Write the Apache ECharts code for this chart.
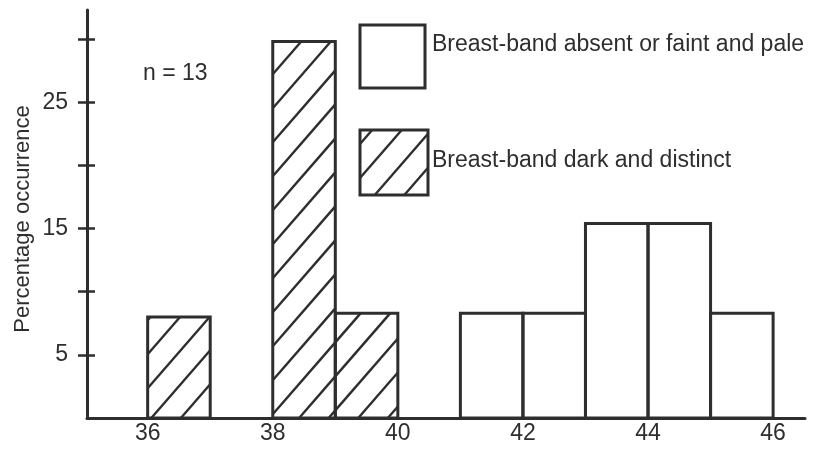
<!DOCTYPE html>
<html>
<head>
<meta charset="utf-8">
<script src="https://cdn.jsdelivr.net/npm/echarts@6/dist/echarts.min.js"></script>
<style>
  html, body { margin: 0; padding: 0; background: #ffffff; }
  #chart { width: 822px; height: 452px; }
</style>
</head>
<body>
<div id="chart"></div>
<script>
// Histogram bins: lower edge, upper edge and percentage occurrence
const darkBinStart = [36, 38, 39];
const darkBinEnd = [37, 39, 40];
const darkPercent = [8.0, 29.8, 8.3];

const paleBinStart = [41, 42, 43, 44, 45];
const paleBinEnd = [42, 43, 44, 45, 46];
const palePercent = [8.3, 8.3, 15.4, 15.4, 8.3];

const xTickLabels = [36, 38, 40, 42, 44, 46];
const yTickMarks = [5, 10, 15, 20, 25, 30];
const yTickLabels = [5, 15, 25];

const sampleNote = 'n = 13';
const paleName = 'Breast-band absent or faint and pale';
const darkName = 'Breast-band dark and distinct';
const yName = 'Percentage occurrence';

const INK = '#2e2e2e';
const FONT = 'Liberation Sans, Arial, sans-serif';
const HATCH_SLOPE = 1.15;  // vertical drop per pixel across
const HATCH_STEP = 34;     // vertical spacing between hatch lines
const HATCH_PHASE = 14;

// Diagonal hatch lines (rising to the right) clipped to a pixel rectangle
function hatchLines(x0, y0, x1, y1, style) {
  const m = HATCH_SLOPE;
  const out = [];
  const cMin = y0 + m * x0;
  const cMax = y1 + m * x1;
  const k = Math.ceil((cMin - HATCH_PHASE) / HATCH_STEP);
  for (let c = k * HATCH_STEP + HATCH_PHASE; c <= cMax; c += HATCH_STEP) {
    const xa = Math.max(x0, (c - y1) / m);
    const xb = Math.min(x1, (c - y0) / m);
    if (xb - xa < 0.5) continue;
    out.push({
      type: 'line',
      shape: { x1: xa, y1: c - m * xa, x2: xb, y2: c - m * xb },
      style: style
    });
  }
  return out;
}

function binRenderer(hatched) {
  return function (params, api) {
    const lo = api.coord([api.value(0), 0]);
    const hi = api.coord([api.value(1), api.value(2)]);
    const x0 = lo[0], x1 = hi[0], yb = lo[1], yt = hi[1];
    const children = [];
    if (hatched) {
      children.push.apply(children, hatchLines(x0, yt, x1, yb, { stroke: INK, lineWidth: 2.4 }));
    }
    children.push({
      type: 'rect',
      shape: { x: x0, y: yt, width: x1 - x0, height: yb - yt },
      style: { fill: 'none', stroke: INK, lineWidth: 3 }
    });
    return { type: 'group', children: children };
  };
}

const darkData = darkBinStart.map((s, i) => [s, darkBinEnd[i], darkPercent[i]]);
const paleData = paleBinStart.map((s, i) => [s, paleBinEnd[i], palePercent[i]]);

// Legend keys drawn as plain boxes beside their captions
const legendBox1 = { x: 360, y: 25, w: 65, h: 63 };
const legendBox2 = { x: 360, y: 130, w: 68, h: 65 };

const chart = echarts.init(document.getElementById('chart'), null, { renderer: 'canvas' });

chart.setOption({
  backgroundColor: '#ffffff',
  animation: false,
  grid: { left: 87, right: 17, top: 10, bottom: 34 },
  xAxis: {
    type: 'value',
    min: 35.03,
    max: 46.51,
    splitLine: { show: false },
    axisLine: { show: true, lineStyle: { color: INK, width: 3 } },
    axisTick: { show: false },
    axisLabel: {
      customValues: xTickLabels,
      fontSize: 23,
      fontFamily: FONT,
      color: INK,
      margin: 4
    }
  },
  yAxis: [
    {
      type: 'value',
      min: 0,
      max: 32.3,
      position: 'left',
      splitLine: { show: false },
      axisLine: { show: true, onZero: false, lineStyle: { color: INK, width: 3 } },
      axisTick: { show: true, customValues: yTickMarks, length: 9, lineStyle: { color: INK, width: 2.5 } },
      axisLabel: {
        customValues: yTickLabels,
        fontSize: 23,
        fontFamily: FONT,
        color: INK,
        margin: 19
      }
    },
    {
      type: 'value',
      min: 0,
      max: 32.3,
      position: 'left',
      splitLine: { show: false },
      axisLine: { show: false, onZero: false },
      axisTick: { show: true, inside: true, customValues: yTickMarks, length: 8, lineStyle: { color: INK, width: 2.5 } },
      axisLabel: { show: false }
    }
  ],
  series: [
    {
      name: darkName,
      type: 'custom',
      clip: false,
      renderItem: binRenderer(true),
      encode: { x: [0, 1], y: 2 },
      data: darkData
    },
    {
      name: paleName,
      type: 'custom',
      clip: false,
      renderItem: binRenderer(false),
      encode: { x: [0, 1], y: 2 },
      data: paleData
    }
  ],
  graphic: [
    {
      type: 'text',
      x: 23, y: 219,
      rotation: Math.PI / 2,
      style: { text: yName, font: '22px ' + FONT, fill: INK, align: 'center', verticalAlign: 'middle' }
    },
    {
      type: 'text',
      x: 143, y: 74,
      style: { text: sampleNote, font: '23px ' + FONT, fill: INK, verticalAlign: 'middle' }
    },
    {
      type: 'rect',
      shape: { x: legendBox1.x, y: legendBox1.y, width: legendBox1.w, height: legendBox1.h },
      style: { fill: 'none', stroke: INK, lineWidth: 3 }
    },
    {
      type: 'group',
      children: hatchLines(legendBox2.x, legendBox2.y, legendBox2.x + legendBox2.w, legendBox2.y + legendBox2.h,
        { stroke: INK, lineWidth: 2.4 }).concat([{
          type: 'rect',
          shape: { x: legendBox2.x, y: legendBox2.y, width: legendBox2.w, height: legendBox2.h },
          style: { fill: 'none', stroke: INK, lineWidth: 3 }
        }])
    },
    {
      type: 'text',
      x: 432, y: 45,
      style: { text: paleName, font: '23px ' + FONT, fill: INK, verticalAlign: 'middle' }
    },
    {
      type: 'text',
      x: 432, y: 161,
      style: { text: darkName, font: '23px ' + FONT, fill: INK, verticalAlign: 'middle' }
    }
  ]
});
</script>
</body>
</html>
